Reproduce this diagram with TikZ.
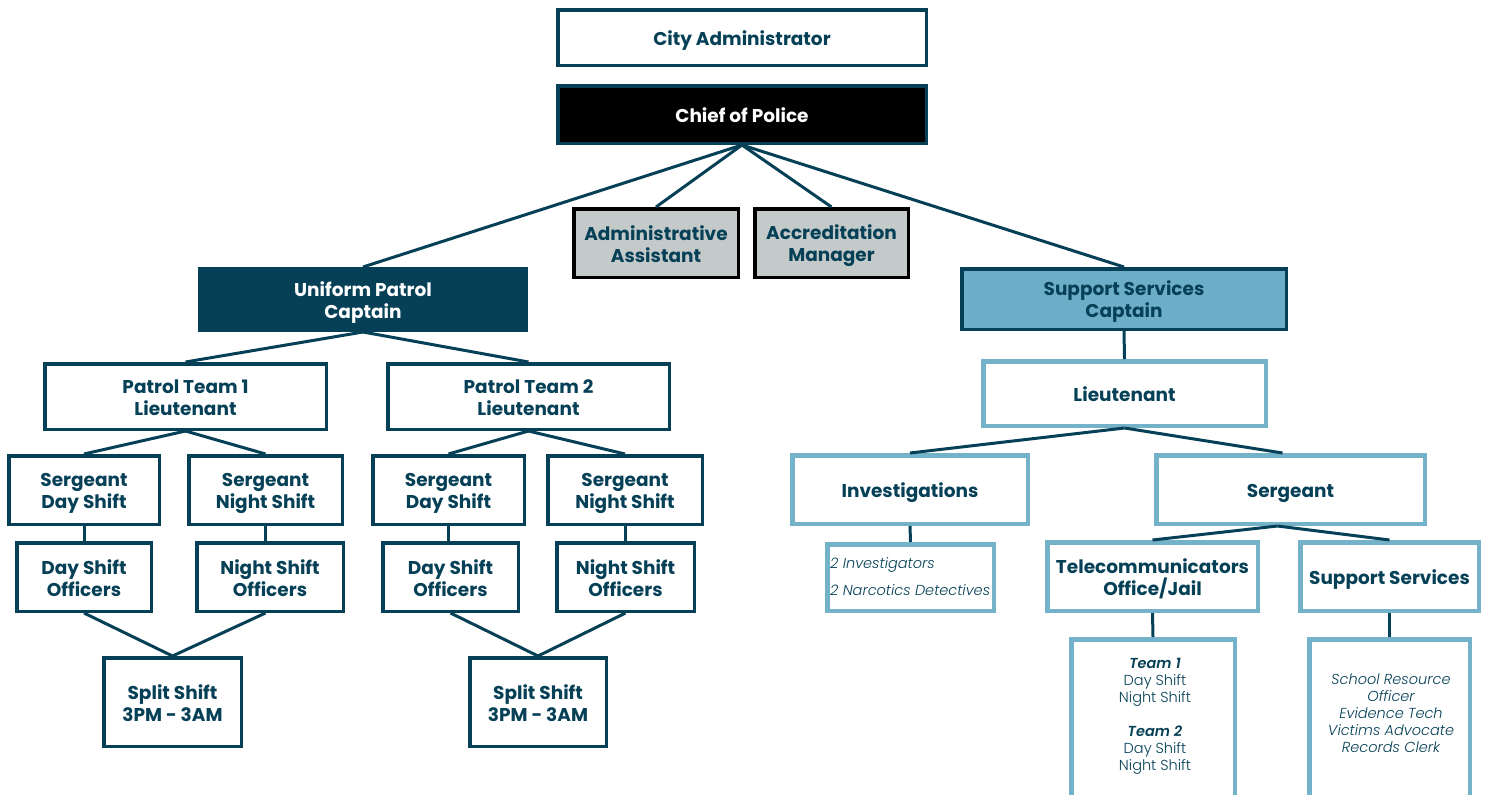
\documentclass[tikz,border=0pt]{standalone}
\usepackage{fontspec}
\setmainfont{Poppins}[BoldFont={Poppins Bold},ItalicFont={Poppins Italic},BoldItalicFont={Poppins SemiBold Italic}]
\newfontfamily\lightf{Poppins Light}[ItalicFont={Poppins Light Italic},BoldFont={Poppins SemiBold},BoldItalicFont={Poppins SemiBold Italic}]
\definecolor{dk}{RGB}{6,64,87}
\definecolor{lt}{RGB}{116,178,202}
\definecolor{sscfill}{RGB}{108,174,200}
\definecolor{grayfill}{RGB}{196,201,201}
\newcommand\fl{\rule{0pt}{20.5pt}}
\begin{document}
\begin{tikzpicture}[x=1pt,y=-1pt,
  box/.style={draw=dk, line width=3.5pt, align=center, text=dk, inner sep=0pt,
    font=\bfseries\fontsize{18.5}{22}\selectfont,
    execute at begin node={\rule{0pt}{21.4pt}},
    execute at end node={\rule[-4.5pt]{0pt}{4.5pt}}},
  lbox/.style={box, draw=lt, line width=4.5pt},
  gbox/.style={box, draw=black, fill=grayfill},
  small/.style={text=dk, align=center, inner sep=0pt, font=\lightf\fontsize{14.5}{17}\selectfont},
  con/.style={draw=dk, line width=3pt}]
\useasboundingbox (0,0) rectangle (1491,795);
\clip (0,0) rectangle (1491,795);
% top
\node[box, minimum width=368.5pt, minimum height=55.5pt] (city) at (742,37.5) {City Administrator};
\node[box, fill=black, text=white, minimum width=368.5pt, minimum height=57.5pt] (chief) at (742,114.5) {Chief of Police};
\node[gbox, minimum width=164.5pt, minimum height=68.5pt] (asst) at (656,243) {\fl Administrative\\Assistant};
\node[gbox, minimum width=153.5pt, minimum height=68.5pt] (accr) at (831.5,243) {\fl Accreditation\\Manager};
\node[box, fill=dk, text=white, minimum width=326.5pt, minimum height=61.5pt] (upc) at (363,299.5) {\fl Uniform Patrol\\Captain};
\node[box, fill=sscfill, minimum width=324.5pt, minimum height=60.5pt] (ssc) at (1124,299) {\fl Support Services\\Captain};
% left branch
\node[box, minimum width=281.5pt, minimum height=65.5pt] (pt1) at (185.5,396.5) {\fl Patrol Team 1\\Lieutenant};
\node[box, minimum width=281.5pt, minimum height=65.5pt] (pt2) at (528.5,396.5) {\fl Patrol Team 2\\Lieutenant};
\node[box, minimum width=150.5pt, minimum height=68.5pt] (sd1) at (84,490) {\fl Sergeant\\Day Shift};
\node[box, minimum width=153.5pt, minimum height=68.5pt] (sn1) at (265.5,490) {\fl Sergeant\\Night Shift};
\node[box, minimum width=151.5pt, minimum height=68.5pt] (sd2) at (448.5,490) {\fl Sergeant\\Day Shift};
\node[box, minimum width=154.5pt, minimum height=68.5pt] (sn2) at (625,490) {\fl Sergeant\\Night Shift};
\node[box, minimum width=134.5pt, minimum height=68.5pt] (do1) at (84,577) {\fl Day Shift\\Officers};
\node[box, minimum width=146.5pt, minimum height=68.5pt] (no1) at (270,577) {\fl Night Shift\\Officers};
\node[box, minimum width=135.5pt, minimum height=68.5pt] (do2) at (450.5,577) {\fl Day Shift\\Officers};
\node[box, minimum width=137.5pt, minimum height=68.5pt] (no2) at (625.5,577) {\fl Night Shift\\Officers};
\node[box, minimum width=137.5pt, minimum height=88.5pt] (ss1) at (172.5,702) {\fl Split Shift\\3PM - 3AM};
\node[box, minimum width=136.5pt, minimum height=88.5pt] (ss2) at (538,702) {\fl Split Shift\\3PM - 3AM};
% right branch
\node[lbox, minimum width=282.5pt, minimum height=64.5pt] (lt) at (1124.5,393.5) {Lieutenant};
\node[lbox, minimum width=235.5pt, minimum height=68.5pt] (inv) at (910,489.5) {Investigations};
\node[lbox, minimum width=268.5pt, minimum height=68.5pt] (sgt) at (1290.5,489.5) {Sergeant};
\node[lbox, minimum width=166.5pt, minimum height=66.5pt] (invl) at (910.5,577.5) {};
\node[small, align=left, anchor=west, font=\lightf\itshape\fontsize{14.5}{27}\selectfont] (invt) at (830,576.5) {2 Investigators\\2 Narcotics Detectives};
\node[lbox, minimum width=210.5pt, minimum height=68.5pt] (tel) at (1152.5,576.5) {\fl Telecommunicators\\Office/Jail};
\node[lbox, minimum width=178.5pt, minimum height=68.5pt] (sup) at (1389.5,576.5) {Support Services};
\node[lbox, minimum width=163.5pt, minimum height=178.5pt] (team) at (1153,728.5) {};
\node[lbox, minimum width=160.5pt, minimum height=178.5pt] (list) at (1389.5,728.5) {};
\node[small] (teamt) at (1155,716) {\textbf{\textit{Team 1}}\\Day Shift\\Night Shift\\[17pt]\textbf{\textit{Team 2}}\\Day Shift\\Night Shift};
\node[small, font=\lightf\itshape\fontsize{14.5}{17}\selectfont] (listt) at (1391,713) {School Resource\\Officer\\Evidence Tech\\Victims Advocate\\Records Clerk};
% connectors
\draw[con] (chief.south) -- (upc.north);
\draw[con] (chief.south) -- (asst.north);
\draw[con] (chief.south) -- (accr.north);
\draw[con] (chief.south) -- (ssc.north);
\draw[con] (upc.south) -- (pt1.north);
\draw[con] (upc.south) -- (pt2.north);
\draw[con] (pt1.south) -- (sd1.north);
\draw[con] (pt1.south) -- (sn1.north);
\draw[con] (pt2.south) -- (sd2.north);
\draw[con] (pt2.south) -- (sn2.north);
\draw[con] (sd1.south) -- (sd1.south |- do1.north);
\draw[con] (sn1.south) -- (sn1.south |- no1.north);
\draw[con] (sd2.south) -- (sd2.south |- do2.north);
\draw[con] (sn2.south) -- (sn2.south |- no2.north);
\draw[con] (do1.south) -- (ss1.north);
\draw[con] (sn1.south |- no1.south) -- (ss1.north);
\draw[con] (do2.south) -- (ss2.north);
\draw[con] (no2.south) -- (ss2.north);
\draw[con] (ssc.south) -- (lt.north);
\draw[con] (lt.south) -- (inv.north);
\draw[con] (lt.south) -- ([xshift=-8pt]sgt.north);
\draw[con] (inv.south) -- (invl.north);
\draw[con] ([xshift=-13pt]sgt.south) -- (tel.north);
\draw[con] ([xshift=-13pt]sgt.south) -- (sup.north);
\draw[con] (tel.south) -- (team.north);
\draw[con] (sup.south) -- (list.north);
\end{tikzpicture}
\end{document}
